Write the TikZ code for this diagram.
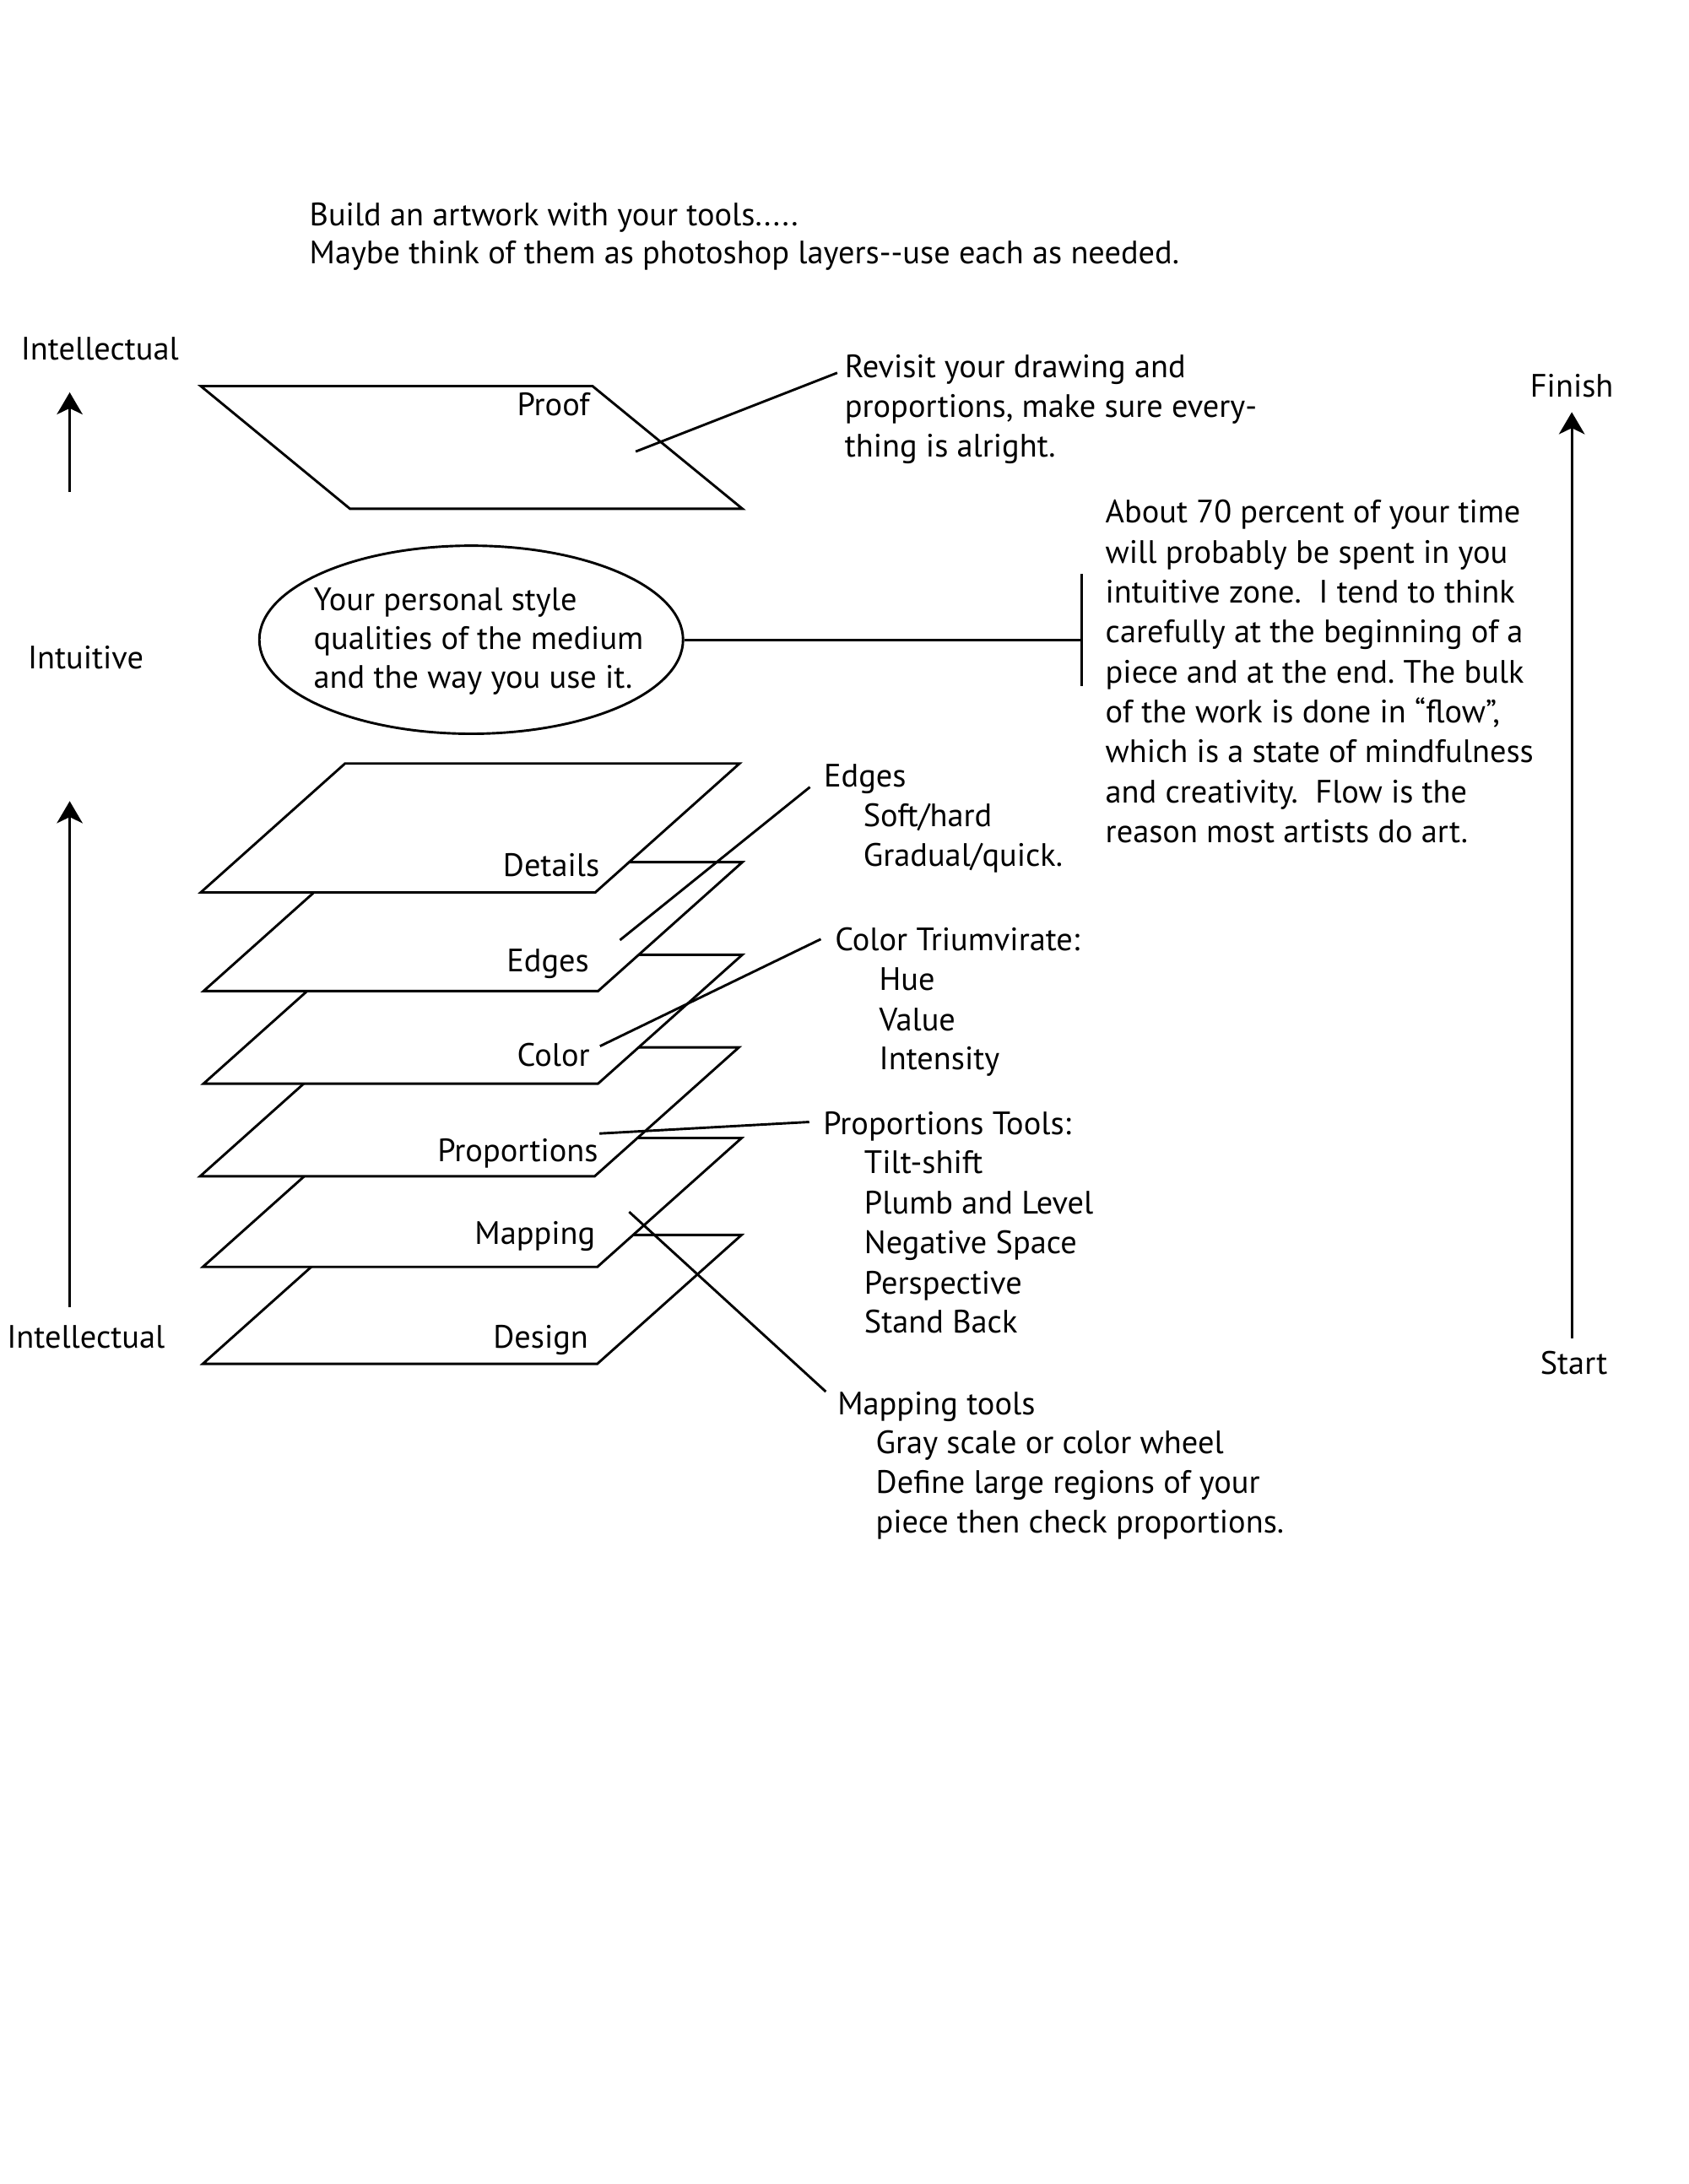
\documentclass[tikz,border=0pt]{standalone}
\usepackage{fontspec}
\setmainfont{PT Sans}
\usetikzlibrary{arrows.meta,shapes.geometric}
\newlength\reflen
\newcommand\lyr[2]{% #1 = bottom-left x, #2 = top y
  \draw[layer] (#1,#2+92.5) -- ++(283,0) -- ++(103.5,-92.5) -- ++(-283,0) -- cycle;}
\begin{document}
\frenchspacing
\settowidth\reflen{\fontsize{10pt}{12pt}\selectfont Maybe think of them as photoshop layers-{}-use each as needed.}
\pgfmathsetmacro\fsz{10*355.1/\reflen}
\begin{tikzpicture}[x=0.02cm,y=-0.02cm]
\tikzset{
  txt/.style={font=\fontsize{\fsz}{\fsz}\selectfont, inner sep=0pt, outer sep=0pt, anchor=base west},
  rtxt/.style={txt, anchor=base east},
  ctxt/.style={txt, anchor=base},
  layer/.style={draw=black, fill=white, line width=1pt, line join=miter},
  lead/.style={draw=black, line width=1pt},
  arr/.style={draw=black, line width=1.1pt, -{Stealth[length=9pt,width=10.5pt,inset=2.5pt]}},
}
% page
\fill[white] (0,0) rectangle (1211,1567);
\useasboundingbox (0,0) rectangle (1211,1567);

% title
\node[txt] (top1) at (222,162) {Build an artwork with your tools.....};
\node[txt] (top2) at (222,189) {Maybe think of them as photoshop layers-{}-use each as needed.};

% left column labels and arrows
\node[txt] (intelTop) at (15,258) {Intellectual};
\node[txt] (intuitive) at (20,480) {Intuitive};
\node[txt] (intelBot) at (5,967) {Intellectual};
\coordinate (a1b) at (50,353);
\coordinate (a1t) at (50,281.5);
\coordinate (a2b) at (50,937.7);
\coordinate (a2t) at (50,574.8);
\draw[arr] (a1b) -- (a1t);
\draw[arr] (a2b) -- (a2t);

% right timeline
\node[ctxt] (finish) at (1127.5,285) {Finish};
\node[ctxt] (start) at (1129,986) {Start};
\coordinate (a3b) at (1127.5,960);
\coordinate (a3t) at (1127.5,295.7);
\draw[arr] (a3b) -- (a3t);

% proof layer
\draw[layer] (144,277) -- (425,277) -- (532.5,365) -- (251,365) -- cycle;
\node[rtxt] (proofL) at (423,298) {Proof};
\node[txt] (rev1) at (606,271) {Revisit your drawing and};
\node[txt] (rev2) at (606,299.4) {proportions, make sure every-};
\node[txt] (rev3) at (606,327.8) {thing is alright.};
\coordinate (proofIn) at (456,324);
\coordinate (proofOut) at (600.6,267.5);
\draw[lead] (proofIn) -- (proofOut);

% intuitive zone
\node[draw=black, line width=1pt, ellipse, minimum width=173pt, minimum height=76.8pt, inner sep=0pt] (ell) at (338,459) {};
\node[txt] (ell1) at (225,438) {Your personal style};
\node[txt] (ell2) at (225,466) {qualities of the medium};
\node[txt] (ell3) at (225,494) {and the way you use it.};
\coordinate (barM) at (776,459);
\coordinate (barT) at (776,411.6);
\coordinate (barB) at (776,492);
\draw[lead] (ell.east) -- (barM);
\draw[lead] (barT) -- (barB);

\node[txt] (para1) at (793,375.3) {About 70 percent of your time};
\node[txt] (para2) at (793,404.0) {will probably be spent in you};
\node[txt] (para3) at (793,432.6) {intuitive zone.\ \ I tend to think};
\node[txt] (para4) at (793,461.3) {carefully at the beginning of a};
\node[txt] (para5) at (793,490.0) {piece and at the end. The bulk};
\node[txt] (para6) at (793,518.7) {of the work is done in “flow”,};
\node[txt] (para7) at (793,547.3) {which is a state of mindfulness};
\node[txt] (para8) at (793,576.0) {and creativity.\ \ Flow is the};
\node[txt] (para9) at (793,604.7) {reason most artists do art.};

% layer stack (bottom first)
\lyr{145.5}{886}
\node[rtxt] (designL) at (422,967) {Design};
\lyr{145.5}{816.5}
\node[rtxt] (mapL) at (427,893) {Mapping};
\lyr{143.5}{751.5}
\node[rtxt] (propL) at (429,833.5) {Proportions};
\lyr{146}{685}
\node[rtxt] (colorL) at (423,765) {Color};
\lyr{146}{618.6}
\node[rtxt] (edgesL) at (422.5,697) {Edges};
\lyr{144}{547.8}
\node[rtxt] (detailsL) at (430,629) {Details};

% annotations
\node[txt] (edgesH) at (591,564.8) {Edges};
\node[txt] (edges1) at (619.3,593) {Soft/hard};
\node[txt] (edges2) at (619.3,621.6) {Gradual/quick.};

\node[txt] (colorH) at (599,682) {Color Triumvirate:};
\node[txt] (color1) at (630.7,710.7) {Hue};
\node[txt] (color2) at (630.7,739.6) {Value};
\node[txt] (color3) at (630.7,767.7) {Intensity};

\node[txt] (propH) at (590.5,814) {Proportions Tools:};
\node[txt] (prop1) at (620,842) {Tilt-shift};
\node[txt] (prop2) at (620,871) {Plumb and Level};
\node[txt] (prop3) at (620,899.6) {Negative Space};
\node[txt] (prop4) at (620,928.3) {Perspective};
\node[txt] (prop5) at (620,956.4) {Stand Back};

\node[txt] (mapH) at (600.8,1015) {Mapping tools};
\node[txt] (map1) at (628.3,1043) {Gray scale or color wheel};
\node[txt] (map2) at (628.3,1071.4) {Define large regions of your};
\node[txt] (map3) at (628.3,1100) {piece then check proportions.};

% leader lines
\coordinate (edgesIn) at (444.7,674.5);
\coordinate (edgesOut) at (581,564.7);
\coordinate (colorIn) at (430.4,750.6);
\coordinate (colorOut) at (588.8,673.8);
\coordinate (propIn) at (430,813.3);
\coordinate (propOut) at (580.5,805);
\coordinate (mapIn) at (451.3,869.5);
\coordinate (mapOut) at (592.4,998.5);
\draw[lead] (edgesIn) -- (edgesOut);
\draw[lead] (colorIn) -- (colorOut);
\draw[lead] (propIn) -- (propOut);
\draw[lead] (mapIn) -- (mapOut);
\end{tikzpicture}
\end{document}
